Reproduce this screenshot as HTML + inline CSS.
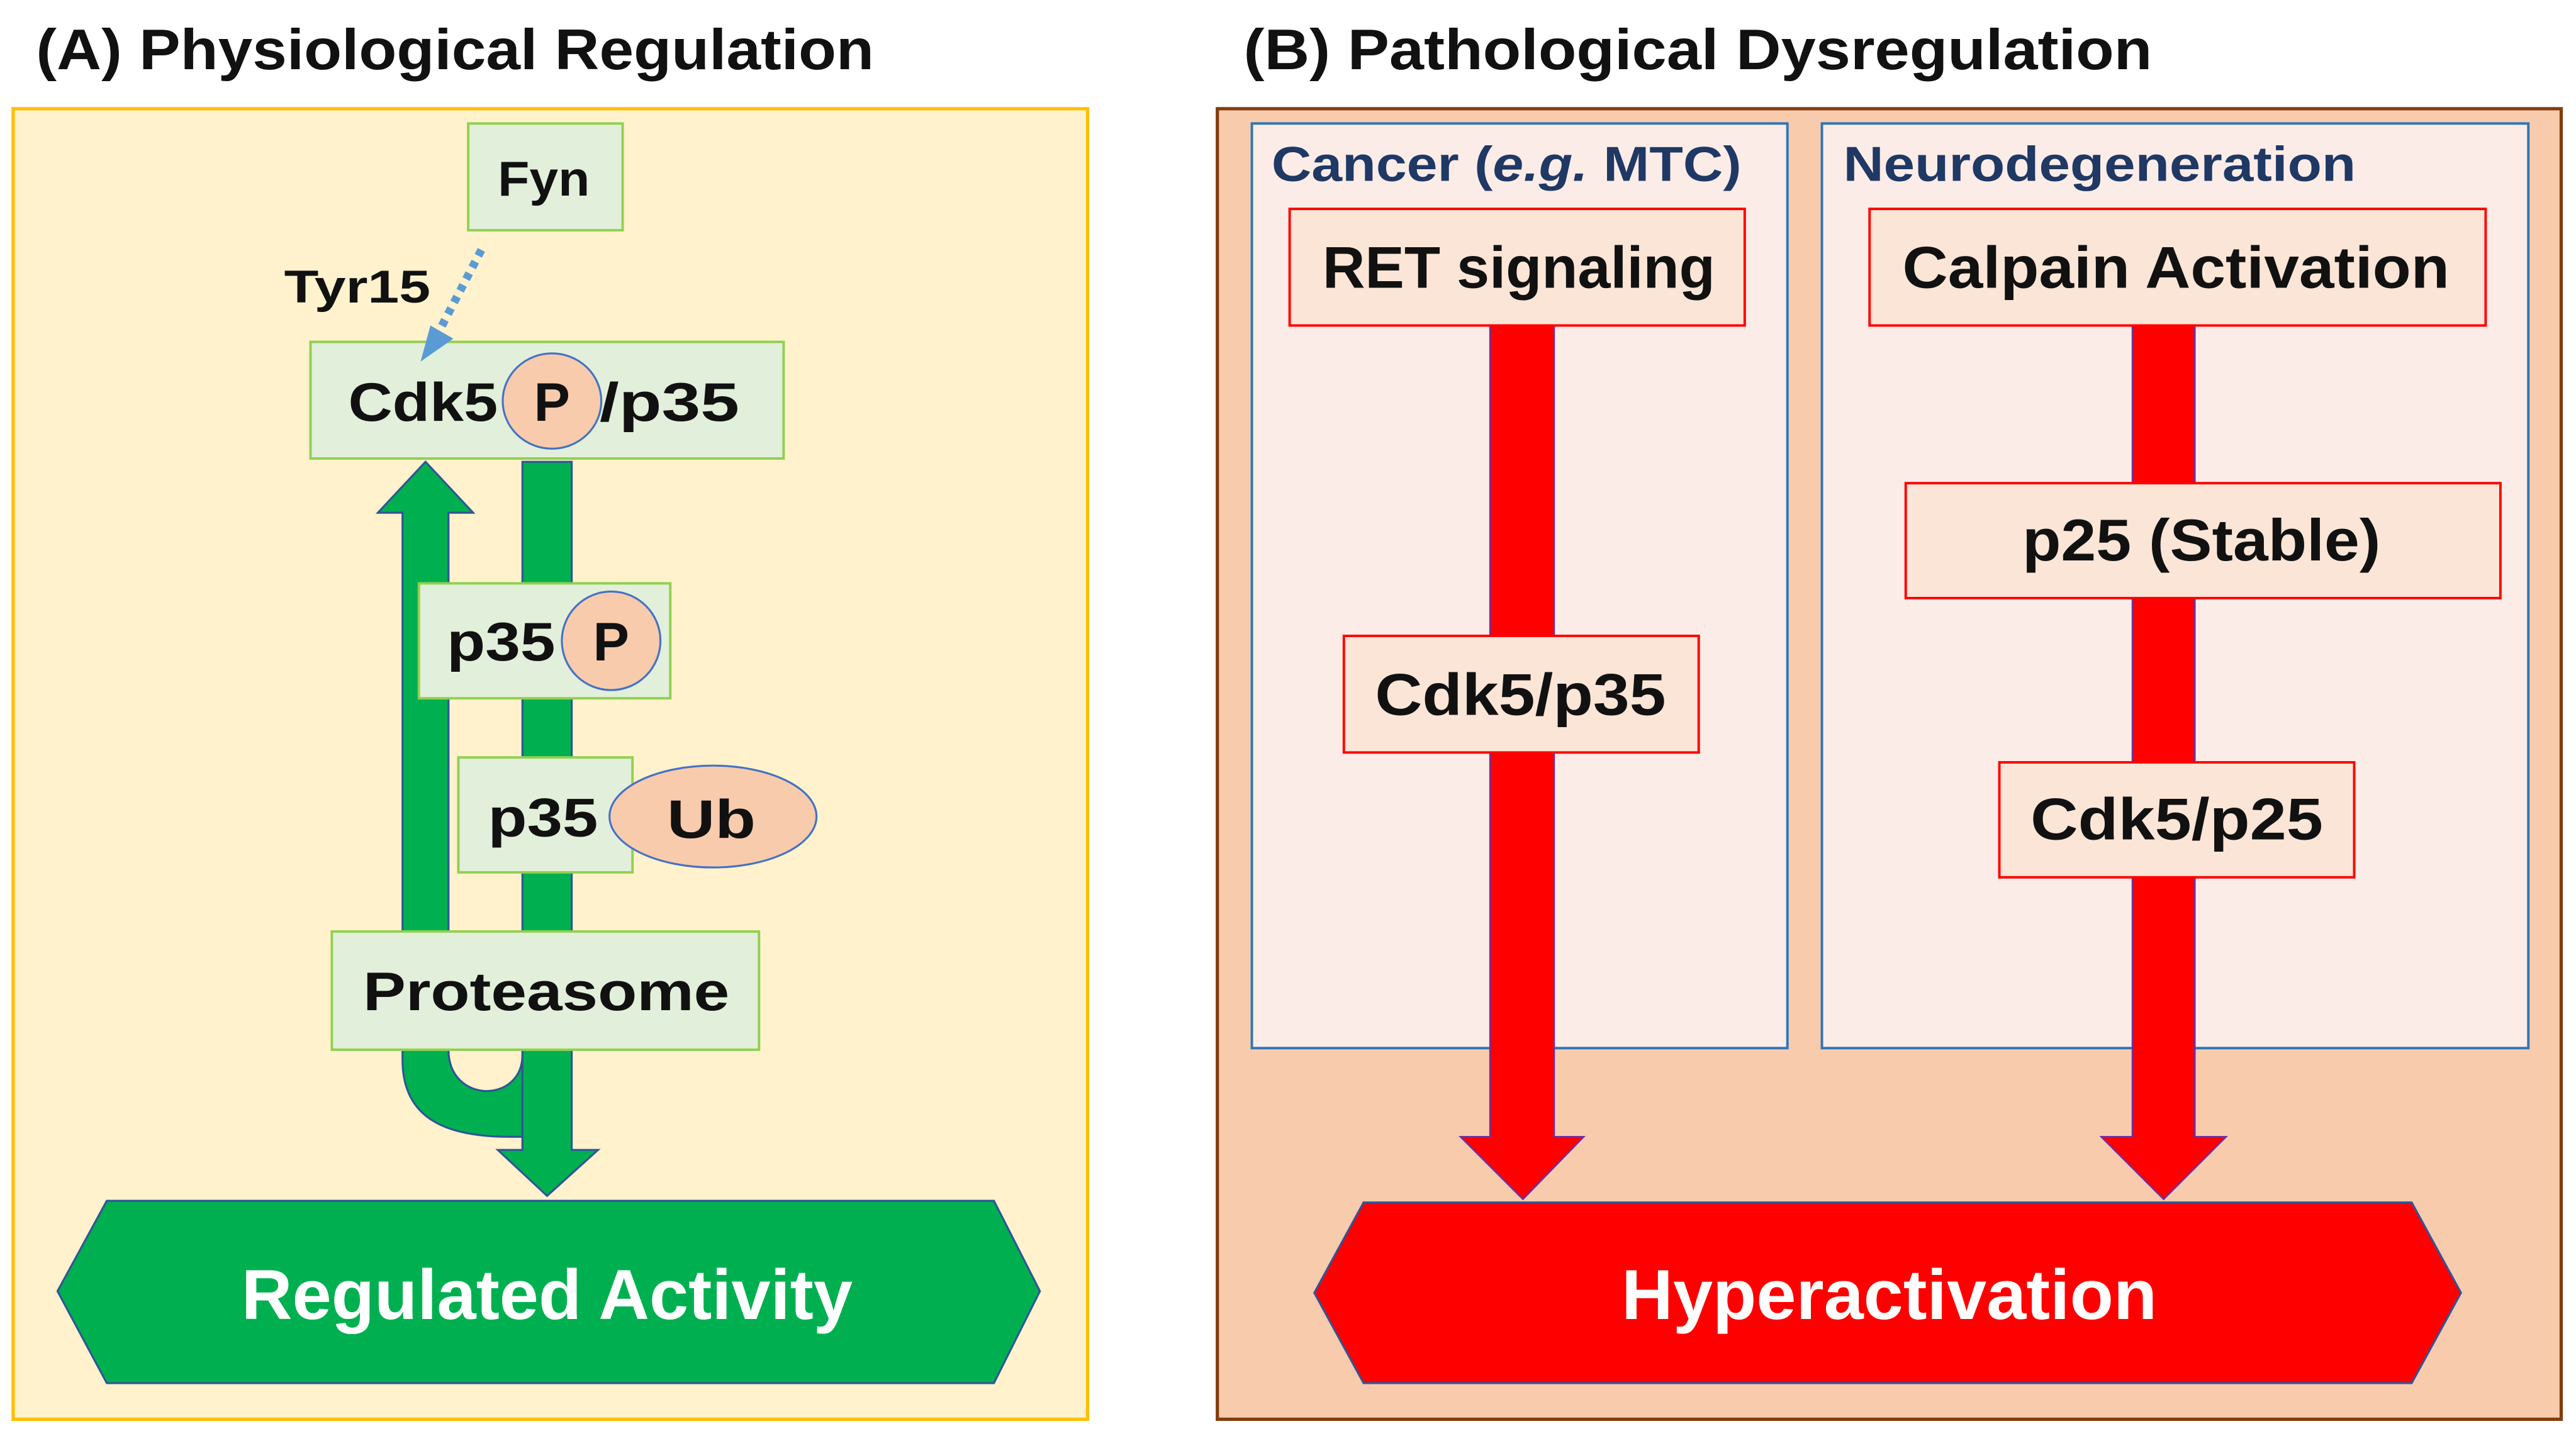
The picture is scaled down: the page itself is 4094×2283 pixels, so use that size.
<!DOCTYPE html>
<html><head><meta charset="utf-8"><style>html,body{margin:0;padding:0;background:#fff}svg{display:block}text{font-family:"Liberation Sans",sans-serif;font-weight:bold}</style></head>
<body>
<svg width="4094" height="2283" viewBox="0 0 1568 874" xmlns="http://www.w3.org/2000/svg">
<rect width="1568" height="874" fill="#fff"/>
<text x="22" y="42" font-size="35" fill="#111" textLength="510" lengthAdjust="spacingAndGlyphs">(A) Physiological Regulation</text>
<text x="757" y="42" font-size="35" fill="#111" textLength="553" lengthAdjust="spacingAndGlyphs">(B) Pathological Dysregulation</text>

<!-- Panel A -->
<rect x="8" y="66" width="654" height="798" fill="#FFF2CC" stroke="#FFC000" stroke-width="2"/>
<g fill="#00B050" stroke="#2F5597" stroke-width="1.2">
<path d="M245,312 L230,312 L259,281 L288,312 L273,312 L273,639 C273,672 318,672 318,642 L318,692 L310,692 C270,692 245,680 245,645 Z"/>
<path d="M318,281 L348,281 L348,700 L364,700 L333,728 L303,700 L318,700 Z"/>
</g>
<g fill="#E2EFDA" stroke="#92D050" stroke-width="1.5">
<rect x="285" y="75" width="94" height="65"/>
<rect x="189" y="208" width="288" height="71"/>
<rect x="255" y="355" width="153" height="70"/>
<rect x="279" y="461" width="106" height="70"/>
<rect x="202" y="567" width="260" height="72"/>
</g>
<line x1="293" y1="152" x2="267" y2="202" stroke="#5B9BD5" stroke-width="5" stroke-dasharray="4,4"/>
<polygon points="256,220 262,198 276,206" fill="#5B9BD5"/>
<g fill="#F8CBAD" stroke="#4472C4" stroke-width="1.2">
<ellipse cx="336" cy="244" rx="30" ry="29"/>
<ellipse cx="372" cy="390" rx="30" ry="30"/>
<ellipse cx="434" cy="497" rx="63" ry="31"/>
</g>
<g fill="#111" font-size="33">
<text x="303" y="119" font-size="30" textLength="56" lengthAdjust="spacingAndGlyphs">Fyn</text>
<text x="173" y="184" font-size="28" textLength="89" lengthAdjust="spacingAndGlyphs">Tyr15</text>
<text x="212" y="256" textLength="91" lengthAdjust="spacingAndGlyphs">Cdk5</text>
<text x="336" y="256" text-anchor="middle">P</text>
<text x="365" y="256" textLength="85" lengthAdjust="spacingAndGlyphs">/p35</text>
<text x="272" y="402" textLength="66" lengthAdjust="spacingAndGlyphs">p35</text>
<text x="372" y="402" text-anchor="middle">P</text>
<text x="297" y="509" textLength="67" lengthAdjust="spacingAndGlyphs">p35</text>
<text x="406" y="510" textLength="54" lengthAdjust="spacingAndGlyphs">Ub</text>
<text x="221" y="615" textLength="223" lengthAdjust="spacingAndGlyphs">Proteasome</text>
</g>
<polygon points="35,786 65,731 605,731 633,786 605,842 65,842" fill="#00B050" stroke="#2F5597" stroke-width="1.2"/>
<text x="147" y="803" font-size="43" fill="#fff" textLength="372" lengthAdjust="spacingAndGlyphs">Regulated Activity</text>

<!-- Panel B -->
<rect x="741" y="66" width="818" height="798" fill="#F8CBAD" stroke="#843C0C" stroke-width="2"/>
<rect x="762" y="75" width="326" height="563" fill="#FBECE8" stroke="#2E75B6" stroke-width="1.5"/>
<rect x="1109" y="75" width="430" height="563" fill="#FBECE8" stroke="#2E75B6" stroke-width="1.5"/>
<text x="774" y="110" font-size="30" fill="#1F3864" textLength="286" lengthAdjust="spacingAndGlyphs">Cancer (<tspan font-style="italic">e.g.</tspan> MTC)</text>
<text x="1122" y="110" font-size="30" fill="#1F3864" textLength="312" lengthAdjust="spacingAndGlyphs">Neurodegeneration</text>
<g fill="#FF0000" stroke="#7030A0" stroke-width="1">
<polygon points="907,198 946,198 946,692 964,692 927,730 889,692 907,692"/>
<polygon points="1298,198 1336,198 1336,692 1355,692 1317,730 1279,692 1298,692"/>
</g>
<g fill="#FBE5D6" stroke="#FF0000" stroke-width="1.5">
<rect x="785" y="127" width="277" height="71"/>
<rect x="818" y="387" width="216" height="71"/>
<rect x="1138" y="127" width="375" height="71"/>
<rect x="1160" y="294" width="362" height="70"/>
<rect x="1217" y="464" width="216" height="70"/>
</g>
<g fill="#111" font-size="36">
<text x="805" y="175" textLength="239" lengthAdjust="spacingAndGlyphs">RET signaling</text>
<text x="837" y="435" textLength="177" lengthAdjust="spacingAndGlyphs">Cdk5/p35</text>
<text x="1158" y="175" textLength="333" lengthAdjust="spacingAndGlyphs">Calpain Activation</text>
<text x="1231" y="341" textLength="218" lengthAdjust="spacingAndGlyphs">p25 (Stable)</text>
<text x="1236" y="511" textLength="178" lengthAdjust="spacingAndGlyphs">Cdk5/p25</text>
</g>
<polygon points="800,787 830,732 1468,732 1498,787 1468,842 830,842" fill="#FF0000" stroke="#2F5597" stroke-width="1.2"/>
<text x="987" y="803" font-size="43" fill="#fff" textLength="326" lengthAdjust="spacingAndGlyphs">Hyperactivation</text>
</svg>
</body></html>
